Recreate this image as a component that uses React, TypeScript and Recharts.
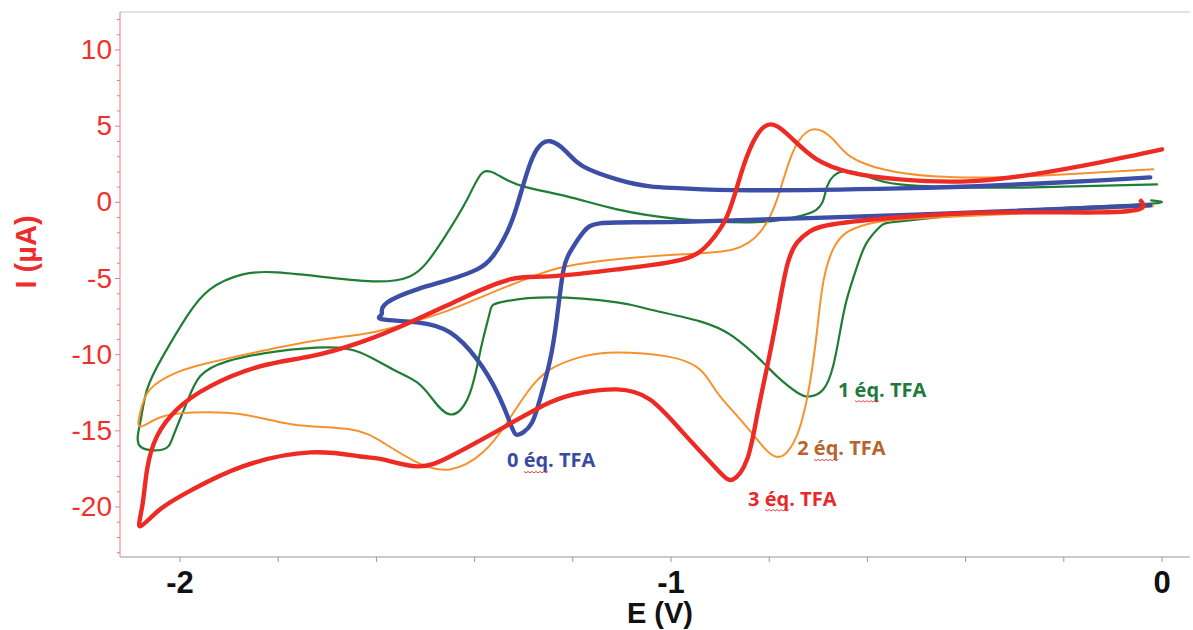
import { LineChart, Line, XAxis, YAxis, ReferenceDot, ReferenceLine, Label } from 'recharts'

const FONT = '"Liberation Sans", Arial, sans-serif'
const LABEL_FONT = '"Open Sans", "Noto Sans", sans-serif'

// E (V), I (µA), each loop starts at the right end
// and runs along the cathodic branch first.
const cv0eq: [number, number][] = [
  [-0.024, -0.2], [-0.33, -0.59], [-0.534, -0.85], [-0.737, -1.05], [-0.941, -1.25],
  [-1.063, -1.31], [-1.145, -1.38], [-1.179, -1.97], [-1.206, -3.28], [-1.22, -4.6],
  [-1.232, -7.49], [-1.246, -10.31], [-1.267, -12.94], [-1.283, -14.45], [-1.301, -15.1],
  [-1.316, -15.23], [-1.328, -14.45], [-1.354, -12.48], [-1.395, -10.31], [-1.45, -8.54],
  [-1.517, -7.88], [-1.587, -7.68], [-1.591, -7.42], [-1.589, -7.22], [-1.578, -6.57],
  [-1.517, -5.71], [-1.45, -5.06], [-1.395, -4.4], [-1.363, -3.55], [-1.334, -1.97],
  [-1.314, -0.26], [-1.293, 1.97], [-1.273, 3.48], [-1.246, 4.01], [-1.212, 3.28],
  [-1.179, 2.36], [-1.11, 1.51], [-1.043, 1.05], [-0.976, 0.92], [-0.839, 0.79],
  [-0.534, 0.92], [-0.33, 1.12], [-0.126, 1.44], [-0.024, 1.64],
]

const cv1eq: [number, number][] = [
  [-0.022, 0.13], [-0.03, -0.1], [-0.263, -0.46], [-0.397, -0.79], [-0.534, -1.25],
  [-0.574, -1.58], [-0.601, -2.63], [-0.621, -4.2], [-0.642, -6.37], [-0.656, -8.54],
  [-0.67, -10.77], [-0.69, -12.28], [-0.717, -12.74], [-0.743, -12.48], [-0.784, -11.42],
  [-0.819, -10.31], [-0.874, -8.8], [-0.941, -7.81], [-1.043, -7.03], [-1.11, -6.57],
  [-1.246, -6.24], [-1.348, -6.57], [-1.369, -7.22], [-1.383, -9.0], [-1.395, -10.77],
  [-1.415, -12.94], [-1.45, -13.92], [-1.485, -12.94], [-1.517, -11.82], [-1.566, -10.97],
  [-1.633, -9.85], [-1.701, -9.52], [-1.802, -9.78], [-1.904, -10.44], [-1.959, -11.42],
  [-1.986, -13.13], [-2.014, -15.36], [-2.035, -16.22], [-2.081, -16.02], [-2.081, -14.45],
  [-2.067, -12.28], [-2.035, -10.11], [-1.986, -7.49], [-1.939, -5.71], [-1.872, -4.73],
  [-1.802, -4.6], [-1.701, -4.92], [-1.599, -5.19], [-1.532, -4.86], [-1.497, -3.94],
  [-1.464, -2.43], [-1.415, 0.2], [-1.383, 1.97], [-1.348, 1.71], [-1.301, 1.05],
  [-1.212, 0.39], [-1.11, -0.46], [-0.976, -1.12], [-0.839, -1.31], [-0.772, -1.12],
  [-0.703, -0.46], [-0.682, 1.05], [-0.65, 2.04], [-0.601, 1.71], [-0.534, 1.18],
  [-0.397, 0.98], [-0.263, 0.98], [-0.01, 1.18],
]

const cv2eq: [number, number][] = [
  [-0.018, -0.26], [-0.33, -0.79], [-0.534, -1.12], [-0.601, -1.44], [-0.642, -1.97],
  [-0.67, -3.09], [-0.69, -5.25], [-0.703, -8.54], [-0.717, -11.82], [-0.737, -14.71],
  [-0.764, -16.41], [-0.788, -16.68], [-0.813, -16.02], [-0.859, -14.25], [-0.906, -12.48],
  [-0.941, -10.97], [-1.008, -10.11], [-1.11, -9.85], [-1.179, -10.11], [-1.246, -10.97],
  [-1.293, -12.48], [-1.334, -14.45], [-1.383, -16.41], [-1.45, -17.53], [-1.517, -17.07],
  [-1.587, -15.76], [-1.654, -14.9], [-1.77, -14.58], [-1.872, -13.92], [-1.974, -13.79],
  [-2.041, -14.12], [-2.081, -14.71], [-2.081, -13.79], [-2.061, -12.28], [-2.006, -11.16],
  [-1.939, -10.51], [-1.837, -9.78], [-1.735, -9.13], [-1.633, -8.67], [-1.566, -8.21],
  [-1.464, -7.22], [-1.383, -6.17], [-1.281, -4.86], [-1.212, -4.2], [-1.11, -3.74],
  [-0.976, -3.41], [-0.874, -3.09], [-0.819, -1.97], [-0.784, 0.2], [-0.752, 3.28],
  [-0.711, 4.79], [-0.67, 4.14], [-0.635, 3.02], [-0.568, 2.17], [-0.466, 1.71],
  [-0.33, 1.64], [-0.193, 1.84], [-0.018, 2.17],
]

const cv3eq: [number, number][] = [
  [-0.043, 0.1], [-0.043, -0.4], [-0.126, -0.66], [-0.33, -0.66], [-0.534, -0.98],
  [-0.67, -1.44], [-0.717, -1.9], [-0.743, -2.63], [-0.764, -4.2], [-0.784, -7.49],
  [-0.804, -10.77], [-0.825, -14.05], [-0.845, -16.87], [-0.874, -18.19], [-0.906, -17.53],
  [-0.976, -15.1], [-1.043, -12.94], [-1.11, -12.28], [-1.179, -12.48], [-1.246, -13.13],
  [-1.348, -14.9], [-1.45, -16.68], [-1.517, -17.33], [-1.587, -16.87], [-1.633, -16.68],
  [-1.735, -16.41], [-1.872, -17.33], [-1.974, -18.84], [-2.041, -20.16], [-2.081, -21.27],
  [-2.077, -19.96], [-2.067, -17.53], [-2.047, -15.36], [-2.006, -13.59], [-1.939, -12.08],
  [-1.837, -10.77], [-1.735, -10.11], [-1.633, -9.19], [-1.532, -7.88], [-1.43, -6.37],
  [-1.328, -5.06], [-1.246, -4.86], [-1.11, -4.4], [-0.976, -3.74], [-0.921, -2.63],
  [-0.886, -0.92], [-0.859, 1.71], [-0.833, 3.94], [-0.798, 5.12], [-0.752, 4.14],
  [-0.703, 2.82], [-0.635, 1.97], [-0.534, 1.51], [-0.397, 1.38], [-0.263, 1.84],
  [-0.126, 2.63], [0.0, 3.48],
]

const seriesNames = ['0 éq. TFA', '1 éq. TFA', '2 éq. TFA', '3 éq. TFA']
// where each curve label sits (E, I of its left baseline)
const labelAnchors: [number, number][] = [[-1.334, -17.4], [-0.66, -12.75], [-0.743, -16.6], [-0.843, -19.9]]

const xTicks = [-2, -1.8, -1.6, -1.4, -1.2, -1, -0.8, -0.6, -0.4, -0.2, 0]
const yTicks = [
  -23, -22, -21, -20, -19, -18, -17, -16, -15, -14, -13, -12, -11, -10, -9, -8, -7, -6,
  -5, -4, -3, -2, -1, 0, 1, 2, 3, 4, 5, 6, 7, 8, 9, 10, 11, 12,
]
const X_DOMAIN: [number, number] = [-2.1222, 0.057]
const Y_DOMAIN: [number, number] = [-23.28, 12.495]

const toRows = (pts: [number, number][]) => pts.map(([E, I]) => ({ E, I }))

const curves = [
  { name: seriesNames[1], data: toRows(cv1eq), color: '#1f7d36', label: '#21793a', width: 2.2 },
  { name: seriesNames[2], data: toRows(cv2eq), color: '#f7912d', label: '#b5652d', width: 2 },
  { name: seriesNames[0], data: toRows(cv0eq), color: '#3c4ea6', label: '#3a4aa0', width: 4.4 },
  { name: seriesNames[3], data: toRows(cv3eq), color: '#ee2a24', label: '#e8282a', width: 4.4 },
]

function YTick({ x, y, payload }: any) {
  const v = payload.value
  const major = v % 5 === 0
  return (
    <g>
      <line x1={x - (major ? 5 : 3)} x2={x} y1={y} y2={y} stroke="#f07a7a" strokeWidth={1} />
      {major && (
        <text x={x - 8} y={y} dy={9} textAnchor="end" fill="#f0302a" fontSize={28} fontFamily={FONT}>
          {v}
        </text>
      )}
    </g>
  )
}

function XTick({ x, y, payload }: any) {
  const v = payload.value
  const major = Math.abs(v - Math.round(v)) < 1e-6
  return (
    <g>
      <line x1={x} x2={x} y1={y} y2={y + 5} stroke="#999" strokeWidth={1} />
      {major && (
        <text x={x} y={y + 36} textAnchor="middle" fill="#111" fontSize={31} fontWeight="bold" fontFamily={FONT}>
          {Math.round(v)}
        </text>
      )}
    </g>
  )
}

// spell-checker squiggle under "éq"
function squiggle(x0: number, y0: number, len: number) {
  let d = `M${x0},${y0}`
  for (let i = 1; i * 2 <= len; i++) d += ` L${x0 + i * 2},${y0 + (i % 2 ? 1.5 : 0)}`
  return d
}

function CurveLabel({ cx, cy, text, color }: any) {
  return (
    <g>
      <text x={cx} y={cy} fill={color} fontSize={20} fontWeight="bold" fontFamily={LABEL_FONT}>
        {text}
      </text>
      <path d={squiggle(cx + 17, cy + 4, 24)} fill="none" stroke="#e53030" strokeWidth={0.9} />
    </g>
  )
}

export default function App() {
  return (
    <div style={{ position: 'absolute', left: 0, top: 0, background: '#fff' }}>
      <LineChart width={1193} height={630} margin={{ top: 12, right: 3, bottom: 0, left: 0 }}>
        <XAxis
          type="number"
          dataKey="E"
          domain={X_DOMAIN}
          allowDataOverflow
          ticks={xTicks}
          interval={0}
          tick={<XTick />}
          tickLine={false}
          tickSize={0}
          tickMargin={0}
          stroke="#999"
          height={73}
        >
          <Label
            content={() => (
              <text x={660} y={623} textAnchor="middle" fill="#111" fontSize={29} fontWeight="bold" fontFamily={FONT}>
                E (V)
              </text>
            )}
          />
        </XAxis>
        <YAxis
          type="number"
          domain={Y_DOMAIN}
          allowDataOverflow
          ticks={yTicks}
          interval={0}
          tick={<YTick />}
          tickLine={false}
          tickSize={0}
          tickMargin={0}
          stroke="#f07a7a"
          width={120}
        >
          <Label
            content={() => (
              <text
                x={36}
                y={252}
                transform="rotate(-90 36 252)"
                textAnchor="middle"
                fill="#ee2c2c"
                fontSize={29}
                fontWeight="bold"
                fontFamily={FONT}
              >
                I (µA)
              </text>
            )}
          />
        </YAxis>
        <ReferenceLine y={Y_DOMAIN[1]} stroke="#d9d9d9" strokeWidth={1.5} />
        {curves.map((c) => (
          <Line
            key={c.name}
            data={c.data}
            dataKey="I"
            type="natural"
            stroke={c.color}
            strokeWidth={c.width}
            strokeLinejoin="round"
            strokeLinecap="round"
            dot={false}
            activeDot={false}
            isAnimationActive={false}
          />
        ))}
        {curves.map((c) => {
          const [E, I] = labelAnchors[seriesNames.indexOf(c.name)]
          return (
            <ReferenceDot
              key={'lbl' + c.name}
              x={E}
              y={I}
              r={0}
              ifOverflow="visible"
              shape={(p: any) => <CurveLabel cx={p.cx} cy={p.cy} text={c.name} color={c.label} />}
            />
          )
        })}
      </LineChart>
    </div>
  )
}
